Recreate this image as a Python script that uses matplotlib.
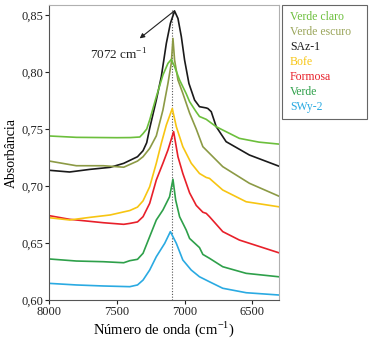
import matplotlib
matplotlib.use("Agg")
import matplotlib.pyplot as plt
from matplotlib.patches import Rectangle

plt.rcParams['font.family'] = ['Liberation Serif', 'DejaVu Serif']
plt.rcParams['mathtext.fontset'] = 'custom'
plt.rcParams['mathtext.rm'] = 'Liberation Serif'

names = ["Verde claro", "Verde escuro", "SAz-1", "Bofe", "Formosa", "Verde", "SWy-2"]
colors = ["#6cbf3c", "#8c9a45", "#1a1a1a", "#f7c512", "#e8202a", "#2ea04a", "#2aaae2"]
legend_colors = ["#6cbf3c", "#9aa55a", "#1a1a1a", "#f7c512", "#e8202a", "#2ea04a", "#2aaae2"]

wn_verde_claro = [8000, 7800, 7500, 7400, 7331, 7307, 7280, 7258, 7209, 7160, 7123, 7098, 7074, 7037,
                  6988, 6963, 6914, 6890, 6840, 6766, 6595, 6450, 6305]
ab_verde_claro = [0.7439, 0.7427, 0.7424, 0.7425, 0.7430, 0.7460, 0.7500, 0.7579, 0.7783, 0.7974, 0.8076,
                  0.8111, 0.8047, 0.7930, 0.7810, 0.7740, 0.7650, 0.7610, 0.7585, 0.7520, 0.7418, 0.7385, 0.7368]

wn_verde_escuro = [8000, 7800, 7600, 7450, 7348, 7307, 7258, 7209, 7160, 7123, 7098, 7086, 7074, 7049,
                   7013, 6963, 6914, 6865, 6718, 6521, 6305]
ab_verde_escuro = [0.7219, 0.7178, 0.7178, 0.7165, 0.7219, 0.7257, 0.7330, 0.7440, 0.7667, 0.7900, 0.8080,
                   0.8295, 0.8105, 0.7930, 0.7813, 0.7640, 0.7500, 0.7345, 0.7170, 0.7024, 0.6912]

wn_saz1 = [8000, 7850, 7700, 7550, 7450, 7348, 7307, 7280, 7258, 7209, 7172, 7135, 7105, 7074, 7049,
           7024, 7000, 6968, 6926, 6890, 6840, 6828, 6803, 6766, 6693, 6521, 6305]
ab_saz1 = [0.7138, 0.7123, 0.7146, 0.7164, 0.7199, 0.7257, 0.7310, 0.7380, 0.7506, 0.7754, 0.7960, 0.8251,
           0.8427, 0.8535, 0.8470, 0.8310, 0.8105, 0.7900, 0.7754, 0.7696, 0.7685, 0.7680, 0.7652, 0.7520,
           0.7389, 0.7272, 0.7175]

wn_bofe = [8000, 7850, 7700, 7550, 7405, 7348, 7307, 7258, 7209, 7172, 7135, 7091, 7061, 7013, 6951,
           6890, 6840, 6816, 6718, 6545, 6305]
ab_bofe = [0.6722, 0.6702, 0.6725, 0.6746, 0.6785, 0.6815, 0.6870, 0.6994, 0.7200, 0.7375, 0.7535, 0.7680,
           0.7520, 0.7345, 0.7200, 0.7110, 0.7075, 0.7067, 0.6965, 0.6862, 0.6818]

wn_formosa = [8000, 7850, 7600, 7450, 7405, 7348, 7307, 7258, 7209, 7160, 7123, 7081, 7049, 7013, 6963,
              6914, 6865, 6840, 6816, 6718, 6595, 6305]
ab_formosa = [0.6740, 0.6708, 0.6678, 0.6664, 0.6672, 0.6685, 0.6731, 0.6848, 0.7053, 0.7200, 0.7316,
              0.7477, 0.7257, 0.7110, 0.6940, 0.6830, 0.6770, 0.6760, 0.6731, 0.6600, 0.6526, 0.6415]

wn_verde = [8000, 7800, 7600, 7450, 7405, 7348, 7307, 7258, 7209, 7160, 7111, 7086, 7066, 7037, 6988,
            6963, 6890, 6865, 6816, 6718, 6545, 6305]
ab_verde = [0.6360, 0.6342, 0.6336, 0.6327, 0.6345, 0.6357, 0.6410, 0.6556, 0.6702, 0.6790, 0.6906,
            0.7059, 0.6877, 0.6731, 0.6614, 0.6540, 0.6460, 0.6400, 0.6366, 0.6292, 0.6234, 0.6204]

wn_swy2 = [8000, 7800, 7600, 7405, 7348, 7307, 7258, 7209, 7147, 7105, 7061, 7013, 6951, 6890, 6816,
           6718, 6545, 6305]
ab_swy2 = [0.6146, 0.6132, 0.6123, 0.6117, 0.6132, 0.6175, 0.6263, 0.6380, 0.6497, 0.6600, 0.6497,
           0.6351, 0.6263, 0.6204, 0.6160, 0.6103, 0.6064, 0.6044]

series = [(wn_verde_claro, ab_verde_claro), (wn_verde_escuro, ab_verde_escuro),
          (wn_saz1, ab_saz1), (wn_bofe, ab_bofe), (wn_formosa, ab_formosa),
          (wn_verde, ab_verde), (wn_swy2, ab_swy2)]

peak_line = 7093
peak_label = "7072 cm$^{\\mathrm{-1}}$"
xticks = [8000, 7500, 7000, 6500]
yticks = [0.60, 0.65, 0.70, 0.75, 0.80, 0.85]

fig = plt.figure(figsize=(3.72, 3.38), dpi=100)
ax = fig.add_axes([0.1325, 0.1124, 0.6183, 0.8728])

ax.plot([peak_line, peak_line], [0.60, 0.855], color="#555555", lw=0.8, ls=(0, (1, 1.5)), zorder=1)
for (wn, ab), c in reversed(list(zip(series, colors))):
    ax.plot(wn, ab, color=c, lw=1.2, zorder=2, solid_joinstyle="round")

ax.set_xlim(8000, 6300)
ax.set_ylim(0.60, 0.8588)
ax.set_xticks(xticks)
ax.set_xticklabels([str(t) for t in xticks])
ax.set_yticks(yticks)
ax.set_yticklabels([f"{t:.2f}".replace(".", ",") for t in yticks])
ax.tick_params(labelsize=9, length=3, width=0.8, pad=1.5, colors="#222222")
ax.set_xlabel("Número de onda (cm$^{\\mathrm{-1}}$)", fontsize=10.5, labelpad=1)
ax.set_ylabel("Absorbância", fontsize=10, labelpad=2)
for s in ["left", "bottom"]:
    ax.spines[s].set_color("#555555")
    ax.spines[s].set_linewidth(0.8)
for s in ["top", "right"]:
    ax.spines[s].set_color("#b0b0b0")
    ax.spines[s].set_linewidth(0.8)

ax.annotate("", xy=(7332, 0.8295), xytext=(7074, 0.8538),
            arrowprops=dict(arrowstyle="-|>", color="#222222", lw=0.8,
                            mutation_scale=7, shrinkA=0, shrinkB=0))
ax.text(7700, 0.815, peak_label, fontsize=9.5, va="center", ha="left", color="#222222")

fig.patches.append(Rectangle((282/372, 1-119/338), 85/372, 114/338, transform=fig.transFigure,
                             fill=False, edgecolor="#666666", lw=0.8))
for i, (n, c) in enumerate(zip(names, legend_colors)):
    fig.text(290/372, 1-(16.7 + i*15.05)/338, n, color=c, fontsize=8.5, va="center", ha="left")

fig.savefig("out.png", dpi=100)
